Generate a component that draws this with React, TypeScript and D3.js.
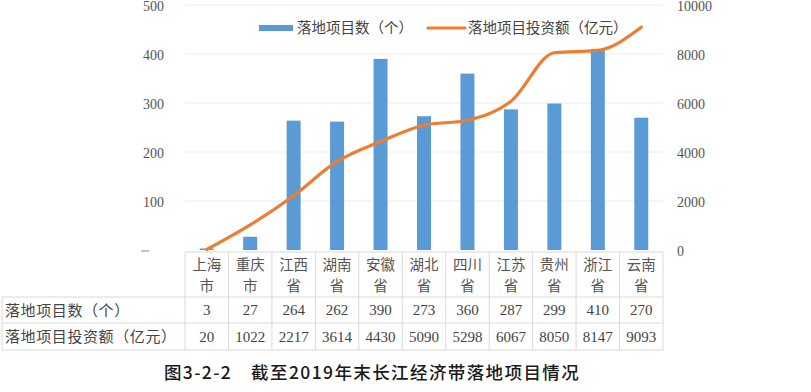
import React from "react";
import * as d3 from "d3";

const categoriesTop = ["上海", "重庆", "江西", "湖南", "安徽", "湖北", "四川", "江苏", "贵州", "浙江", "云南"];
const categoriesBottom = ["市", "市", "省", "省", "省", "省", "省", "省", "省", "省", "省"];
const projectCounts = [3, 27, 264, 262, 390, 273, 360, 287, 299, 410, 270];
const investments = [20, 1022, 2217, 3614, 4430, 5090, 5298, 6067, 8050, 8147, 9093];
const leftTicks = [100, 200, 300, 400, 500];
const rightTicks = [0, 2000, 4000, 6000, 8000, 10000];
const seriesNames = ["落地项目数（个）", "落地项目投资额（亿元）"];
const title = "图3-2-2　截至2019年末长江经济带落地项目情况";

const W = 811;
const H = 392;
const BLUE = "#5B9BD5";
const ORANGE = "#ED7D31";
const serif = "'Liberation Serif', 'DejaVu Serif', serif";
const cjk = "'Noto Sans CJK SC', 'Liberation Serif', serif";

export default function App() {
  const keys = categoriesTop.map((c, i) => c + categoriesBottom[i]);
  const x = d3.scaleBand<string>().domain(keys).range([185, 663]).paddingInner(0).paddingOuter(0);
  const yL = d3.scaleLinear().domain([0, 500]).range([250, 5]);
  const yR = d3.scaleLinear().domain([0, 10000]).range([250, 5]);
  const bw = 14;
  const cx = (k: string) => (x(k) as number) + x.bandwidth() / 2;
  const line = d3
    .line<number>()
    .x((_, i) => cx(keys[i]))
    .y((d) => yR(d))
    .curve(d3.curveMonotoneX);

  const tableTop = 252;
  const rowH1 = 297;
  const rowH2 = 323;
  const tableBottom = 350;
  const border = "#d9d9d9";

  return (
    <svg width={W} height={H} style={{ position: "absolute", left: 0, top: 0, background: "#fff" }}>
      <rect x={0} y={0} width={W} height={H} fill="#fff" />
      {/* gridlines */}
      {leftTicks.map((t) => (
        <line key={t} x1={185} x2={663} y1={yL(t)} y2={yL(t)} stroke="#e6eef7" strokeWidth={1} />
      ))}
      {/* left axis labels */}
      {leftTicks.map((t) => (
        <text key={t} x={164} y={yL(t) + 5.5} textAnchor="end" fontFamily={serif} fontSize={14} fill="#555">
          {t}
        </text>
      ))}
      <line x1={141} x2={149} y1={251} y2={251} stroke="#888" strokeWidth={1} />
      {/* right axis labels */}
      {rightTicks.map((t) => (
        <text key={t} x={677} y={yR(t) + 5.5} textAnchor="start" fontFamily={serif} fontSize={14} fill="#555">
          {t}
        </text>
      ))}
      {/* bars */}
      {projectCounts.map((v, i) => (
        <rect key={i} x={cx(keys[i]) - bw / 2} y={yL(v)} width={bw} height={250 - yL(v)} fill={BLUE} />
      ))}
      {/* line */}
      <path d={line(investments) || ""} fill="none" stroke={ORANGE} strokeWidth={3.2} strokeLinejoin="round" strokeLinecap="round" />
      {/* legend */}
      <rect x={259} y={25} width={34} height={6} fill={BLUE} />
      <text x={297} y={33} fontFamily={cjk} fontSize={14.5} fill="#444">
        {seriesNames[0]}
      </text>
      <line x1={428} x2={465} y1={28} y2={28} stroke={ORANGE} strokeWidth={3.2} strokeLinecap="round" />
      <text x={468} y={33} fontFamily={cjk} fontSize={14.5} fill="#444">
        {seriesNames[1]}
      </text>
      {/* table */}
      <line x1={185} x2={663} y1={tableTop} y2={tableTop} stroke={border} />
      <line x1={2} x2={663} y1={rowH1} y2={rowH1} stroke={border} />
      <line x1={2} x2={663} y1={rowH2} y2={rowH2} stroke={border} />
      <line x1={2} x2={663} y1={tableBottom} y2={tableBottom} stroke={border} />
      <line x1={2} x2={2} y1={rowH1} y2={tableBottom} stroke={border} />
      {keys.map((k) => (
        <line key={k} x1={x(k) as number} x2={x(k) as number} y1={tableTop} y2={tableBottom} stroke={border} />
      ))}
      <line x1={663} x2={663} y1={tableTop} y2={tableBottom} stroke={border} />
      {keys.map((k, i) => (
        <g key={k}>
          <text x={cx(k)} y={270} textAnchor="middle" fontFamily={cjk} fontSize={14.5} fill="#555">
            {categoriesTop[i]}
          </text>
          <text x={cx(k)} y={291} textAnchor="middle" fontFamily={cjk} fontSize={14.5} fill="#555">
            {categoriesBottom[i]}
          </text>
          <text x={cx(k)} y={315} textAnchor="middle" fontFamily={serif} fontSize={15} fill="#444">
            {projectCounts[i]}
          </text>
          <text x={cx(k)} y={342} textAnchor="middle" fontFamily={serif} fontSize={15} fill="#444">
            {investments[i]}
          </text>
        </g>
      ))}
      <text x={5} y={316} fontFamily={cjk} fontSize={15} letterSpacing={0.6} fill="#444">
        {seriesNames[0]}
      </text>
      <text x={5} y={342} fontFamily={cjk} fontSize={15} letterSpacing={0.6} fill="#444">
        {seriesNames[1]}
      </text>
      {/* title */}
      <text x={372} y={379} textAnchor="middle" fontFamily={cjk} fontSize={17.5} letterSpacing={1.4} fontWeight={500} fill="#1a1a1a">
        {title}
      </text>
    </svg>
  );
}
